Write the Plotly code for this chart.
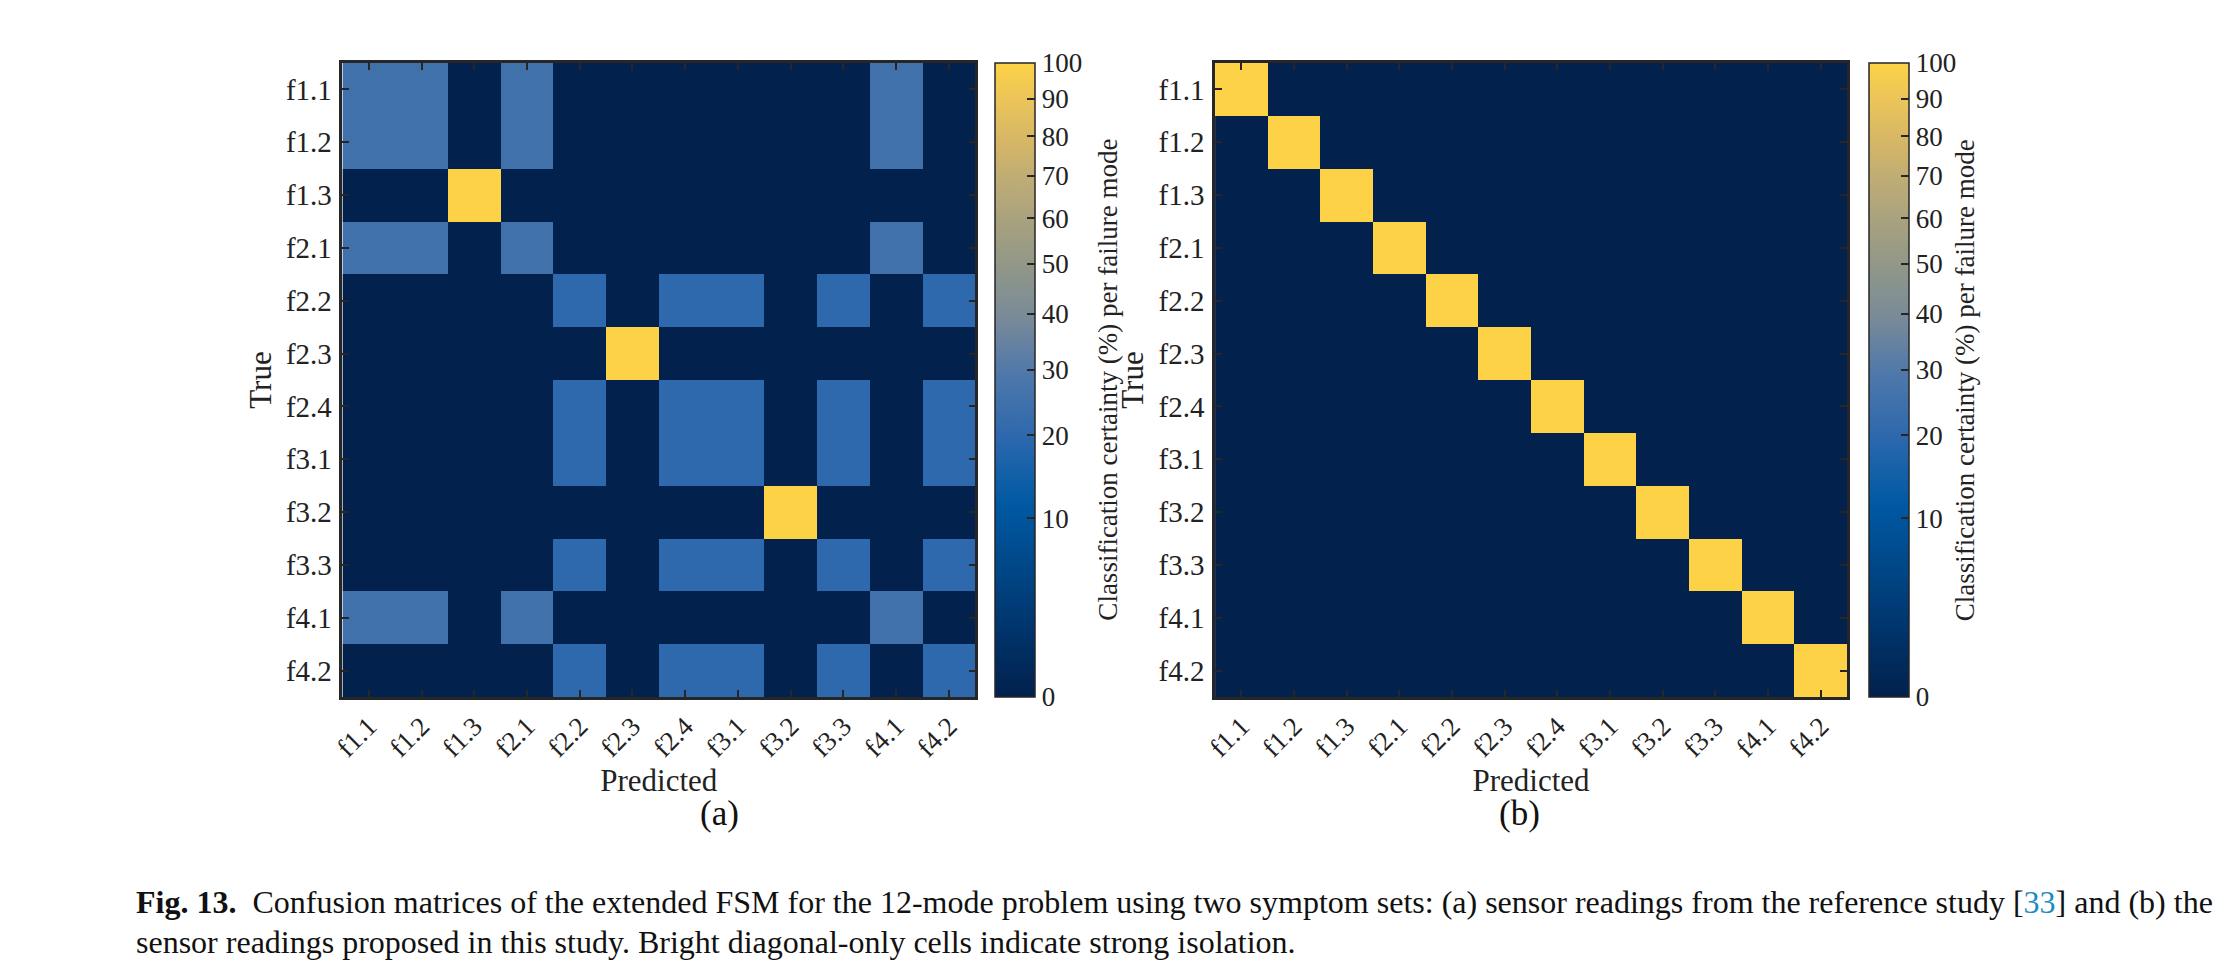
import plotly.graph_objects as go

# failure modes (rows = true, cols = predicted)
modes = ["f1.1", "f1.2", "f1.3", "f2.1", "f2.2", "f2.3",
         "f2.4", "f3.1", "f3.2", "f3.3", "f4.1", "f4.2"]

# (a) reference study sensor set, certainty in %
cm_reference = [
    [25, 25, 0, 25, 0, 0, 0, 0, 0, 0, 25, 0],
    [25, 25, 0, 25, 0, 0, 0, 0, 0, 0, 25, 0],
    [0, 0, 100, 0, 0, 0, 0, 0, 0, 0, 0, 0],
    [25, 25, 0, 25, 0, 0, 0, 0, 0, 0, 25, 0],
    [0, 0, 0, 0, 20, 0, 20, 20, 0, 20, 0, 20],
    [0, 0, 0, 0, 0, 100, 0, 0, 0, 0, 0, 0],
    [0, 0, 0, 0, 20, 0, 20, 20, 0, 20, 0, 20],
    [0, 0, 0, 0, 20, 0, 20, 20, 0, 20, 0, 20],
    [0, 0, 0, 0, 0, 0, 0, 0, 100, 0, 0, 0],
    [0, 0, 0, 0, 20, 0, 20, 20, 0, 20, 0, 20],
    [25, 25, 0, 25, 0, 0, 0, 0, 0, 0, 25, 0],
    [0, 0, 0, 0, 20, 0, 20, 20, 0, 20, 0, 20],
]

# (b) proposed sensor set
cm_proposed = [
    [100, 0, 0, 0, 0, 0, 0, 0, 0, 0, 0, 0],
    [0, 100, 0, 0, 0, 0, 0, 0, 0, 0, 0, 0],
    [0, 0, 100, 0, 0, 0, 0, 0, 0, 0, 0, 0],
    [0, 0, 0, 100, 0, 0, 0, 0, 0, 0, 0, 0],
    [0, 0, 0, 0, 100, 0, 0, 0, 0, 0, 0, 0],
    [0, 0, 0, 0, 0, 100, 0, 0, 0, 0, 0, 0],
    [0, 0, 0, 0, 0, 0, 100, 0, 0, 0, 0, 0],
    [0, 0, 0, 0, 0, 0, 0, 100, 0, 0, 0, 0],
    [0, 0, 0, 0, 0, 0, 0, 0, 100, 0, 0, 0],
    [0, 0, 0, 0, 0, 0, 0, 0, 0, 100, 0, 0],
    [0, 0, 0, 0, 0, 0, 0, 0, 0, 0, 100, 0],
    [0, 0, 0, 0, 0, 0, 0, 0, 0, 0, 0, 100],
]

cbar_ticks = [0, 10, 20, 30, 40, 50, 60, 70, 80, 90, 100]

W, H = 2239, 964
PAGE_OFFSET = 8  # default body margin of the html page
FONT = "Liberation Serif"
INK = "#262626"
GAMMA = 0.55  # colour bar is stretched, not linear

# colour map sampled from the colour bar (position in stretched space)
colorscale = [
    [0.00, "#02214c"], [0.10, "#00336a"], [0.20, "#004686"],
    [0.30, "#0058a2"], [0.35, "#1260a8"], [0.41, "#2d68ad"],
    [0.51, "#4f78aa"], [0.60, "#7a8b98"], [0.68, "#919788"],
    [0.75, "#a8a17f"], [0.82, "#c0ad74"], [0.88, "#d7b765"],
    [0.94, "#ebc45a"], [1.00, "#fdd247"],
]


def stretch(v):
    return 100 * (v / 100) ** GAMMA


def px_x(p):
    return (p - PAGE_OFFSET) / W


def px_y(p):
    return 1 - (p - PAGE_OFFSET) / H


def add_matrix(fig, cm, n, x0, x1, cb_x0):
    xa = "xaxis" if n == 1 else "xaxis%d" % n
    ya = "yaxis" if n == 1 else "yaxis%d" % n
    z = [[stretch(v) for v in row] for row in cm]
    fig.add_trace(go.Heatmap(
        z=z, x=modes, y=modes, customdata=cm,
        xaxis="x" if n == 1 else "x%d" % n,
        yaxis="y" if n == 1 else "y%d" % n,
        zmin=0, zmax=100, colorscale=colorscale,
        hovertemplate="True %{y}<br>Predicted %{x}<br>%{customdata}%<extra></extra>",
        colorbar=dict(
            x=px_x(cb_x0), xanchor="left", xpad=0,
            y=px_y(63), yanchor="top", ypad=0,
            len=634, lenmode="pixels",
            thickness=40, thicknessmode="pixels",
            outlinecolor=INK, outlinewidth=1.5,
            tickvals=[stretch(t) for t in cbar_ticks],
            ticktext=[str(t) for t in cbar_ticks],
            ticks="inside", ticklen=8, tickcolor=INK, tickwidth=1.5,
            tickfont=dict(family=FONT, size=27, color="#222"),
        ),
    ))
    axis_common = dict(
        showline=True, linecolor=INK, linewidth=2.5, mirror="ticks",
        ticks="inside", ticklen=7, tickwidth=1.5, tickcolor=INK,
        tickfont=dict(family=FONT, size=29, color="#222"),
        showgrid=False, zeroline=False,
    )
    fig.layout[xa] = dict(
        axis_common, domain=[px_x(x0), px_x(x1)], anchor="y" if n == 1 else "y%d" % n,
        tickangle=-45, ticklabelstandoff=0,
        tickfont=dict(family=FONT, size=27, color="#222"),
        title=dict(text="Predicted", standoff=0,
                   font=dict(family=FONT, size=31, color="#222")),
    )
    fig.layout[ya] = dict(
        axis_common, domain=[px_y(697), px_y(63)], anchor="x" if n == 1 else "x%d" % n,
        autorange="reversed", ticklabelstandoff=2,
        title=dict(text="True", standoff=6,
                   font=dict(family=FONT, size=31, color="#222")),
    )


fig = go.Figure()
add_matrix(fig, cm_reference, 1, 333, 969, 989)
add_matrix(fig, cm_proposed, 2, 1210, 1845, 1867)

cb_title = "Classification certainty (%) per failure mode"
for cx in (1102, 1981):
    fig.add_annotation(x=px_x(cx), y=px_y(380), xref="paper", yref="paper",
                       text=cb_title, textangle=-90, showarrow=False,
                       font=dict(family=FONT, size=27, color="#222"))

for lab, cx in (("(a)", 690), ("(b)", 1539)):
    fig.add_annotation(x=px_x(cx), y=px_y(835), xref="paper", yref="paper",
                       text=lab, showarrow=False,
                       font=dict(family=FONT, size=35, color="#111"))

caption = [
    "<b>Fig. 13.</b>  Confusion matrices of the extended FSM for the 12-mode problem using two "
    "symptom sets: (a) sensor readings from the reference study "
    "[<span style='color:#1a8cc1'>33</span>] and (b) the",
    "sensor readings proposed in this study. Bright diagonal-only cells indicate strong isolation.",
]
for i, line in enumerate(caption):
    fig.add_annotation(x=px_x(124), y=px_y(902 + 40 * i), xref="paper", yref="paper",
                       xanchor="left", yanchor="middle", text=line, showarrow=False,
                       font=dict(family=FONT, size=32, color="#111"))

fig.update_layout(
    width=W, height=H, margin=dict(l=0, r=0, t=0, b=0),
    paper_bgcolor="white", plot_bgcolor="white",
    font=dict(family=FONT, color="#222"),
)

fig.write_html("out.html")
